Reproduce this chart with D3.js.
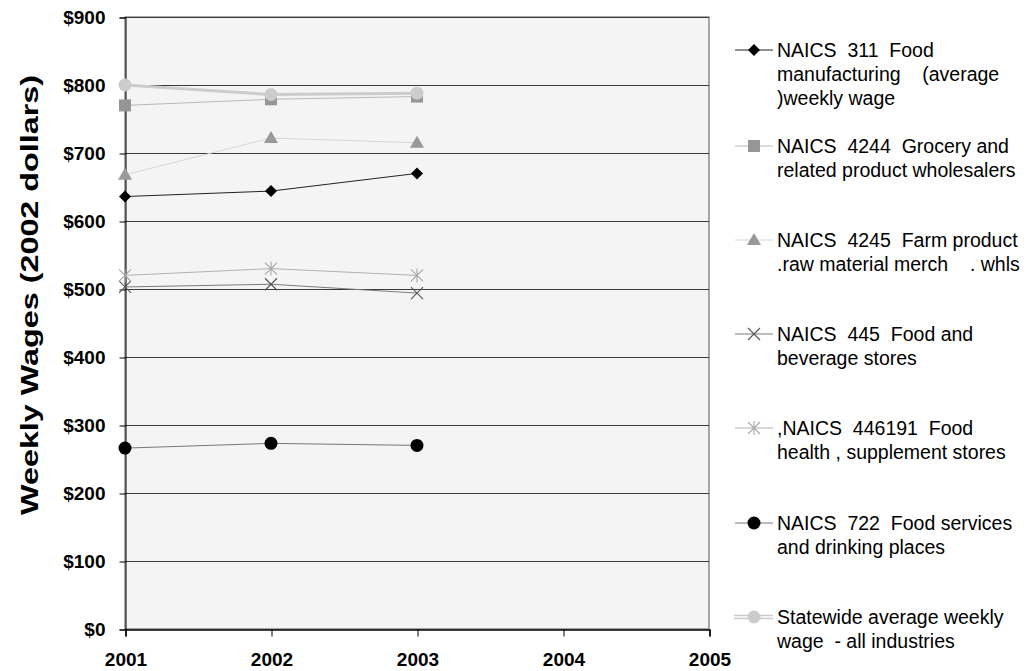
<!DOCTYPE html>
<html>
<head>
<meta charset="utf-8">
<script src="https://cdn.jsdelivr.net/npm/d3@7"></script>
<style>
  html, body { margin: 0; padding: 0; background: #ffffff; }
  svg { display: block; font-family: "Liberation Sans", Arial, sans-serif; }
</style>
</head>
<body>
<svg id="chart" width="1029" height="671"></svg>
<script>
// Years on the x axis and tick labels
const years = [2001, 2002, 2003, 2004, 2005];
const dataYears = [2001, 2002, 2003];
const yTicks = [0, 100, 200, 300, 400, 500, 600, 700, 800, 900];

// Weekly wages in 2002 dollars, one array per industry
const naics311 = [636, 644, 670];
const naics4244 = [770, 779, 783];
const naics4245 = [668, 722, 715];
const naics445 = [503, 507, 494];
const naics446191 = [520, 530, 520];
const naics722 = [266, 273, 270];
const statewide = [800, 786, 788];

// Legend labels (each entry is a list of lines)
const labels = [
  ["NAICS  311  Food", "manufacturing    (average", ")weekly wage"],
  ["NAICS  4244  Grocery and", "related product wholesalers"],
  ["NAICS  4245  Farm product", ".raw material merch    . whls"],
  ["NAICS  445  Food and", "beverage stores"],
  [",NAICS  446191  Food", "health , supplement stores"],
  ["NAICS  722  Food services", "and drinking places"],
  ["Statewide average weekly", "wage  - all industries"]
];

const series = [
  { values: naics311,    line: "#222222", width: 1, marker: "diamond",  fill: "#000000" },
  { values: naics4244,   line: "#b8b8b8", width: 1, marker: "square",   fill: "#969696" },
  { values: naics4245,   line: "#d4d4d4", width: 1, marker: "triangle", fill: "#999999" },
  { values: naics445,    line: "#7a7a7a", width: 1, marker: "x",        fill: "#555555" },
  { values: naics446191, line: "#b0b0b0", width: 1, marker: "star",     fill: "#a8a8a8" },
  { values: naics722,    line: "#777777", width: 1, marker: "circle",   fill: "#000000" },
  { values: statewide,   line: "#cccccc", width: 3, marker: "circle",   fill: "#cccccc" }
];

const svg = d3.select("#chart");
const plotLeft = 125, plotRight = 709, plotTop = 17, plotBottom = 629;

const x = d3.scaleLinear().domain([2001, 2005]).range([plotLeft, plotRight]);
const y = d3.scaleLinear().domain([0, 900]).range([plotBottom, plotTop]);

// Plot background
svg.append("rect")
  .attr("x", plotLeft).attr("y", plotTop)
  .attr("width", plotRight - plotLeft).attr("height", plotBottom - plotTop)
  .attr("fill", "#f4f4f4")
  .attr("stroke", "#555").attr("stroke-width", 1);

// Horizontal gridlines
svg.append("g")
  .selectAll("line")
  .data(yTicks.filter(d => d > 0))
  .join("line")
  .attr("x1", plotLeft).attr("x2", plotRight)
  .attr("y1", d => Math.round(y(d)) + 0.5).attr("y2", d => Math.round(y(d)) + 0.5)
  .attr("stroke", "#3a3a3a").attr("stroke-width", 1);

// Y axis
const yAxis = d3.axisLeft(y)
  .tickValues(yTicks)
  .tickSize(6)
  .tickPadding(14)
  .tickFormat(d => "$" + d);
const gy = svg.append("g")
  .attr("transform", `translate(${plotLeft + 0.5},0.5)`)
  .call(yAxis);
gy.select(".domain").attr("stroke", "#000");
gy.selectAll(".tick line").attr("stroke", "#000");
gy.selectAll(".tick text")
  .attr("font-size", 19).attr("font-weight", "bold")
  .attr("fill", "#000")
  .attr("font-family", "Liberation Sans, Arial, sans-serif");

// X axis
const xAxis = d3.axisBottom(x)
  .tickValues(years)
  .tickSize(7)
  .tickPadding(16)
  .tickFormat(d3.format("d"));
const gx = svg.append("g")
  .attr("transform", `translate(0.5,${plotBottom + 0.5})`)
  .call(xAxis);
gx.select(".domain").attr("stroke", "#000").attr("stroke-width", 1.5);
gx.selectAll(".tick line").attr("stroke", "#000");
gx.selectAll(".tick text")
  .attr("font-size", 19).attr("font-weight", "bold")
  .attr("fill", "#000")
  .attr("font-family", "Liberation Sans, Arial, sans-serif");

// Y axis title
svg.append("text")
  .attr("transform", "translate(38,295) rotate(-90)")
  .attr("text-anchor", "middle")
  .attr("font-size", 24)
  .attr("font-weight", "bold")
  .attr("textLength", 440)
  .attr("lengthAdjust", "spacingAndGlyphs")
  .text("Weekly Wages (2002 dollars)");

// Marker drawing
function drawMarker(g, type, cx, cy, color) {
  if (type === "diamond") {
    g.append("path")
      .attr("d", `M${cx},${cy - 6}L${cx + 6},${cy}L${cx},${cy + 6}L${cx - 6},${cy}Z`)
      .attr("fill", color);
  } else if (type === "square") {
    g.append("rect")
      .attr("x", cx - 6).attr("y", cy - 6).attr("width", 12).attr("height", 12)
      .attr("fill", color);
  } else if (type === "triangle") {
    g.append("path")
      .attr("d", `M${cx},${cy - 7}L${cx + 7},${cy + 5}L${cx - 7},${cy + 5}Z`)
      .attr("fill", color);
  } else if (type === "x") {
    g.append("path")
      .attr("d", `M${cx - 6},${cy - 6}L${cx + 6},${cy + 6}M${cx - 6},${cy + 6}L${cx + 6},${cy - 6}`)
      .attr("stroke", color).attr("stroke-width", 1.1).attr("fill", "none");
  } else if (type === "star") {
    g.append("path")
      .attr("d", `M${cx - 6},${cy - 6}L${cx + 6},${cy + 6}M${cx - 6},${cy + 6}L${cx + 6},${cy - 6}M${cx},${cy - 7}L${cx},${cy + 7}`)
      .attr("stroke", color).attr("stroke-width", 1.1).attr("fill", "none");
  } else if (type === "circle") {
    g.append("circle")
      .attr("cx", cx).attr("cy", cy).attr("r", 6.5)
      .attr("fill", color);
  }
}

// Series lines and markers
const line = d3.line()
  .x((d, i) => x(dataYears[i]))
  .y(d => y(d));

const plot = svg.append("g");
series.forEach(s => {
  plot.append("path")
    .attr("d", line(s.values))
    .attr("fill", "none")
    .attr("stroke", s.line)
    .attr("stroke-width", s.width);
});
series.forEach(s => {
  const g = plot.append("g");
  s.values.forEach((v, i) => drawMarker(g, s.marker, x(dataYears[i]), y(v), s.fill));
});

// Legend
const legendY = [50, 146, 240, 334, 428, 523, 617];
const legend = svg.append("g");
series.forEach((s, i) => {
  const g = legend.append("g");
  const ly = legendY[i];
  if (s.width > 1) {
    g.append("line").attr("x1", 734).attr("x2", 773).attr("y1", ly - 1.5).attr("y2", ly - 1.5)
      .attr("stroke", s.line).attr("stroke-width", 1.5);
    g.append("line").attr("x1", 734).attr("x2", 773).attr("y1", ly + 1.5).attr("y2", ly + 1.5)
      .attr("stroke", s.line).attr("stroke-width", 1.5);
  } else {
    g.append("line").attr("x1", 735).attr("x2", 773).attr("y1", ly).attr("y2", ly)
      .attr("stroke", s.line).attr("stroke-width", 1);
  }
  drawMarker(g, s.marker, 754, ly, s.fill);
  const t = g.append("text")
    .attr("x", 777).attr("y", ly + 7)
    .attr("font-size", 19.5)
    .attr("fill", "#000")
    .style("white-space", "pre");
  labels[i].forEach((ln, j) => {
    t.append("tspan").attr("x", 777).attr("y", ly + 7 + j * 24).text(ln);
  });
});
</script>
</body>
</html>
